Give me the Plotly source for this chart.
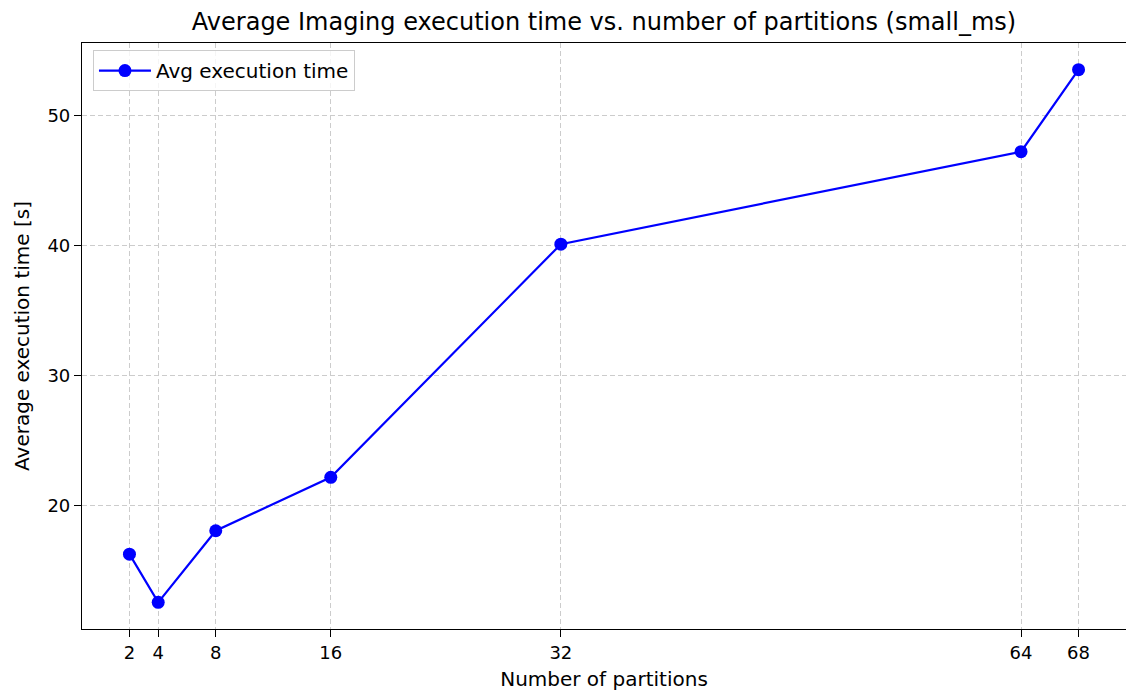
import plotly.graph_objects as go

# Average execution time per partition count
partitions = [2, 4, 8, 16, 32, 64, 68]
avg_time = [16.3, 12.6, 18.1, 22.2, 40.1, 47.2, 53.5]
x_ticks = [2, 4, 8, 16, 32, 64, 68]
y_ticks = [20, 30, 40, 50]

FONT = "DejaVu Sans"
BLUE = "#0000ff"
GRID = "#cccccc"


def padded(vals, frac=0.05):
    lo, hi = min(vals), max(vals)
    pad = (hi - lo) * frac
    return [lo - pad, hi + pad]


fig = go.Figure()
fig.add_trace(go.Scatter(
    x=partitions,
    y=avg_time,
    mode="lines+markers",
    name="Avg execution time",
    line=dict(color=BLUE, width=2.2),
    marker=dict(color=BLUE, size=13),
))

axis_common = dict(
    showline=True,
    linecolor="black",
    linewidth=1.2,
    mirror=True,
    ticks="outside",
    ticklen=7,
    tickwidth=1.2,
    tickcolor="black",
    showgrid=True,
    gridcolor=GRID,
    griddash="5px,3px",
    gridwidth=1,
    zeroline=False,
    tickfont=dict(family=FONT, size=18, color="black"),
)

fig.update_xaxes(
    range=padded(partitions),
    tickmode="array",
    tickvals=x_ticks,
    ticktext=[str(v) for v in x_ticks],
    title=dict(text="Number of partitions", font=dict(family=FONT, size=20, color="black"), standoff=10),
    **axis_common,
)
fig.update_yaxes(
    range=padded(avg_time),
    tickmode="array",
    tickvals=y_ticks,
    ticktext=[str(v) for v in y_ticks],
    title=dict(text="Average execution time [s]", font=dict(family=FONT, size=20, color="black"), standoff=12),
    **axis_common,
)

fig.update_layout(
    width=1126,
    height=693,
    margin=dict(l=82, r=0, t=43, b=64),
    paper_bgcolor="white",
    plot_bgcolor="white",
    font=dict(family=FONT, size=18, color="black"),
    title=dict(
        text="Average Imaging execution time vs. number of partitions (small_ms)",
        font=dict(family=FONT, size=24, color="black"),
        x=0.5364,
        xanchor="center",
        y=1 - 22 / 693,
        yanchor="middle",
        yref="container",
    ),
    showlegend=True,
    legend=dict(
        x=0.0105,
        y=0.988,
        xanchor="left",
        yanchor="top",
        bgcolor="rgba(255,255,255,0.8)",
        bordercolor=GRID,
        borderwidth=1,
        font=dict(family=FONT, size=20, color="black"),
        itemwidth=52,
    ),
)

fig.write_html("out.html")
